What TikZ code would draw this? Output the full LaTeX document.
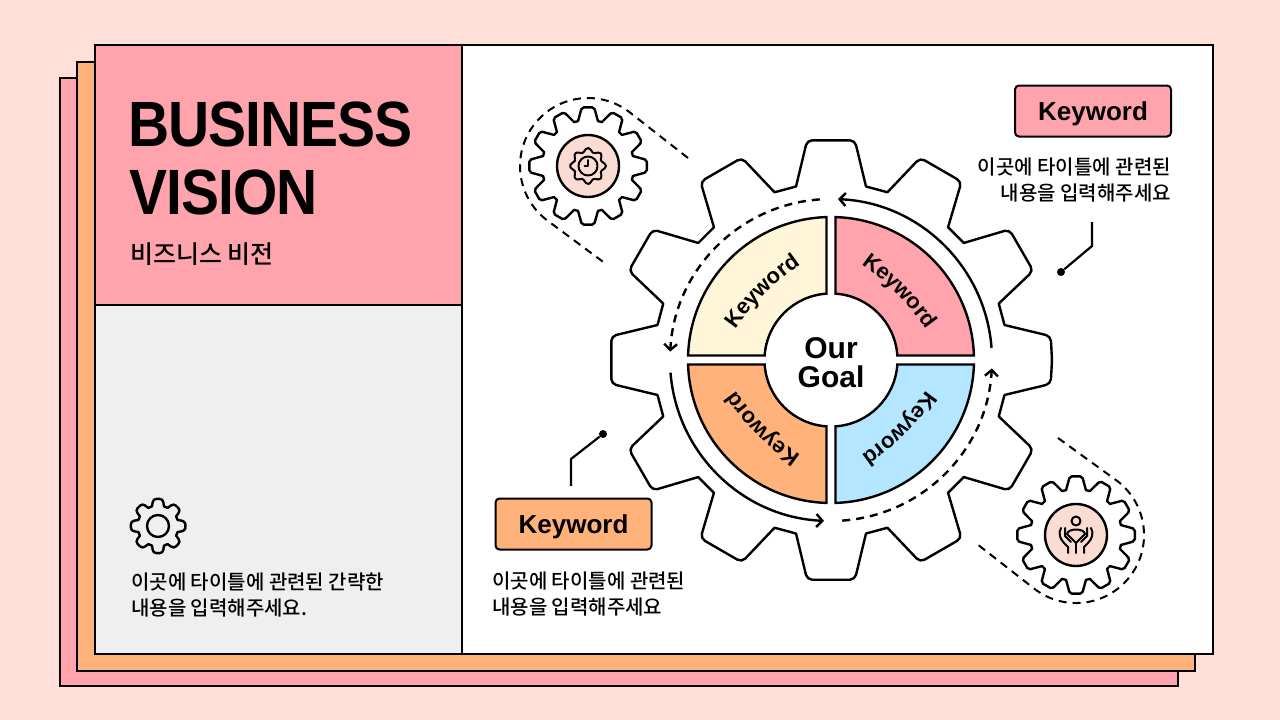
\documentclass[tikz,border=0pt]{standalone}
\usepackage{fontspec}
\setmainfont{Liberation Sans}
\newfontfamily\kofont{Noto Sans CJK KR Medium}
\newfontfamily\titlefont[LetterSpace=-1.5,FakeStretch=0.89]{Liberation Sans}
\usetikzlibrary{arrows.meta,decorations.text}
\definecolor{bgpeach}{HTML}{FFE0D8}
\definecolor{keypink}{HTML}{FFA4AD}
\definecolor{keyorange}{HTML}{FFB37A}
\definecolor{keycream}{HTML}{FFF6D9}
\definecolor{keyblue}{HTML}{B5E6FF}
\definecolor{panelgrey}{HTML}{EFEFEF}
\definecolor{iconpeach}{HTML}{FBDCD2}
% teeth list, outer radius, base radius, half angle at top, half angle at base, corner
\newcommand{\gearpath}[6]{(0:#2) [rounded corners=#6] -- (#4:#2) [sharp corners] -- (#5:#3) \foreach \a in {#1} { -- (\a-#5:#3) [rounded corners=#6] -- (\a-#4:#2) -- (\a+#4:#2) [sharp corners] -- (\a+#5:#3)} -- (-#5:#3) [rounded corners=#6] -- (-#4:#2) -- cycle}
\tikzset{
  frame/.style={draw=black,line width=2pt},
  gearline/.style={draw=black,fill=white,line width=2.4pt,line join=round},
  dashline/.style={draw=black,line width=2pt,dash pattern=on 8pt off 6pt},
  ringline/.style={draw=black,line width=2.4pt,-{Straight Barb[length=6pt,width=13pt]}},
  iconline/.style={draw=black,line width=2pt,line cap=round,line join=round},
  keybox/.style={draw=black,line width=2pt,rounded corners=4pt,minimum width=156pt,minimum height=51pt,inner sep=0pt,text height=20pt,text depth=2pt,font=\bfseries\fontsize{26}{26}\selectfont},
  bodytext/.style={inner sep=0pt,font=\kofont\fontsize{20}{26}\selectfont},
  dotmark/.style={circle,fill=black,minimum size=8pt,inner sep=0pt}
}
\begin{document}
\begin{tikzpicture}[x=1pt,y=-1pt]
  \useasboundingbox (0,0) rectangle (1280,720);
  \fill[bgpeach] (0,0) rectangle (1280,720);
  % stacked sheets
  \draw[frame,fill=keypink] (60,78) rectangle (1178,686);
  \draw[frame,fill=keyorange] (77,62) rectangle (1195,671);
  \draw[frame,fill=white] (95,45) rectangle (1213,654);
  \draw[frame,fill=panelgrey] (95,305) rectangle (462,654);
  \draw[frame,fill=keypink] (95,45) rectangle (462,305);
  % left panel
  \node[anchor=base west,inner sep=0pt,font=\titlefont\bfseries\fontsize{64}{64}\selectfont] (titleA) at (128,146) {BUSINESS};
  \node[anchor=base west,inner sep=0pt,font=\titlefont\bfseries\fontsize{64}{64}\selectfont] (titleB) at (129,214) {VISION};
  \node[anchor=base west,inner sep=0pt,font=\kofont\fontsize{25}{25}\selectfont] (subtitle) at (130,263) {비즈니스 비전};
  \begin{scope}[shift={(158,526)}]
    \draw[iconline,line width=2.4pt] \gearpath{45,90,...,315}{27.5}{20.5}{10}{17}{3pt};
    \draw[iconline,line width=2.4pt] (0,0) circle (11);
  \end{scope}
  \node[bodytext,anchor=west,align=left] (descA) at (131,595) {이곳에 타이틀에 관련된 간략한\\내용을 입력해주세요.};
  % big gear
  \begin{scope}[shift={(831,360)}]
    \draw[gearline] \gearpath{30,60,...,330}{221}{177}{6.2}{11.4}{5pt};
    \foreach \a/\c in {-90/keypink,0/keyblue,90/keyorange,180/keycream}{
      \draw[draw=black,line width=2.4pt,fill=\c,line join=miter] (\a+1.8:143) arc (\a+1.8:\a+88.2:143) -- (\a+86.1:66.5) arc (\a+86.1:\a+3.9:66.5) -- cycle;
      \path[decorate,decoration={text along path,text align=center,text={|\bfseries\fontsize{22}{22}\selectfont|Keyword}}] (\a+13:103) .. controls (\a+34:97) and (\a+56:97) .. (\a+77:103);
    }
    \draw[ringline] (-4.3:161) arc (-4.3:-87.5:161);
    \draw[ringline,dash pattern=on 8pt off 6pt] (-94:161) arc (-94:-177:161);
    \draw[ringline] (175.5:161) arc (175.5:92.5:161);
    \draw[ringline,dash pattern=on 8pt off 6pt] (86:161) arc (86:3:161);
  \end{scope}
  \node[inner sep=0pt,align=center,font=\bfseries\fontsize{30}{29}\selectfont] (goal) at (831,363) {Our\\Goal};
  % small gear top left
  \coordinate (tlStart) at (688,158);
  \coordinate (tlTop) at (629.7,112.3);
  \coordinate (tlEnd) at (606,264);
  \draw[dashline] (tlStart) -- (tlTop) arc (-52.2:-232.2:68) -- (tlEnd);
  \begin{scope}[shift={(588,166)}]
    \draw[gearline] \gearpath{30,60,...,330}{59}{46}{6}{12.5}{2pt};
    \draw[draw=black,fill=iconpeach,line width=2.4pt] (0,0) circle (31);
    \draw[iconline] plot[smooth cycle,samples=41,domain=0:351] ({\x}:{16+2*cos(8*\x)});
    \draw[iconline] (0,0) circle (9.5);
    \draw[iconline] (0,-6) -- (0,0) -- (-3.5,0);
  \end{scope}
  % small gear bottom right
  \coordinate (brStart) at (1058,438);
  \coordinate (brTop) at (1117.7,481.3);
  \coordinate (brEnd) at (977,544);
  \draw[dashline] (brStart) -- (brTop) arc (-52.2:127.8:68) -- (brEnd);
  \begin{scope}[shift={(1076,535)}]
    \draw[gearline] \gearpath{30,60,...,330}{59}{46}{6}{12.5}{2pt};
    \draw[draw=black,fill=iconpeach,line width=2.4pt] (0,0) circle (31);
    \draw[iconline] (0,-14) circle (4.5);
    \draw[iconline] (-9,-1) .. controls (-8,-7) and (8,-7) .. (9,-1);
    \draw[iconline] (-9,-1) -- (0,8) -- (9,-1);
    \draw[iconline] (0,8) -- (0,18);
    \draw[iconline] (-15,-7) .. controls (-18,-2) and (-16,4) .. (-12,8) -- (-8,12) -- (-8,18);
    \draw[iconline] (15,-7) .. controls (18,-2) and (16,4) .. (12,8) -- (8,12) -- (8,18);
    \draw[iconline] (-11,-7) -- (-11,1) -- (-5,7);
    \draw[iconline] (11,-7) -- (11,1) -- (5,7);
  \end{scope}
  % keyword labels
  \node[keybox,fill=keypink] (keyA) at (1093,111) {Keyword};
  \node[bodytext,anchor=east,align=right] (descB) at (1171,180) {이곳에 타이틀에 관련된\\내용을 입력해주세요};
  \coordinate (leadA) at (1092,222);
  \coordinate (bendA) at (1092,246);
  \node[dotmark] (dotA) at (1061,272) {};
  \draw[line width=2.2pt] (leadA) -- (bendA) -- (dotA);
  \node[keybox,fill=keyorange] (keyB) at (573.5,524) {Keyword};
  \node[bodytext,anchor=west,align=left] (descC) at (492,594) {이곳에 타이틀에 관련된\\내용을 입력해주세요};
  \coordinate (leadB) at (571,486);
  \coordinate (bendB) at (571,459);
  \node[dotmark] (dotB) at (603,434) {};
  \draw[line width=2.2pt] (leadB) -- (bendB) -- (dotB);
\end{tikzpicture}
\end{document}
